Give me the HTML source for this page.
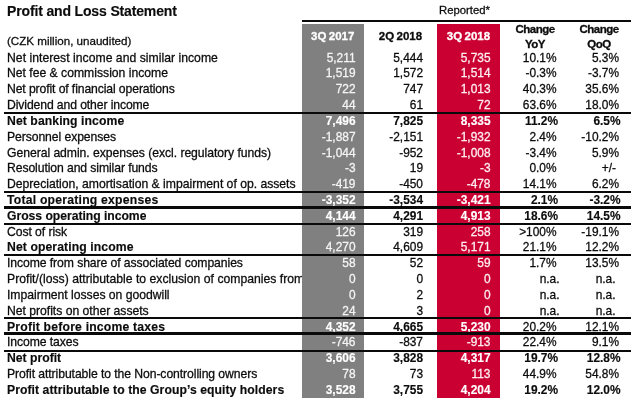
<!DOCTYPE html>
<html><head><meta charset="utf-8"><title>Profit and Loss Statement</title>
<style>
html,body{margin:0;padding:0;background:#fff;}
body{width:640px;height:405px;position:relative;overflow:hidden;font-family:"Liberation Sans",Arial,sans-serif;font-size:12.2px;color:#0c0c0c;-webkit-text-stroke:0.28px currentColor;}
.abs{position:absolute;}
.r{position:absolute;left:0;width:640px;height:16px;line-height:16px;white-space:nowrap;}
.r span{position:absolute;top:0;}
.l{left:7px;max-width:295px;overflow:hidden;}
.c1,.c2,.c3,.c4,.c5{font-size:11.9px;}
.c1{right:284.5px;color:#f4f4f4;}
.c2{right:217px;}
.c3{right:149.5px;color:#fdeef1;}
.c4{right:83.5px;}
.c5{right:21px;}
.b{font-weight:bold;-webkit-text-stroke:0.15px currentColor;}
.h{-webkit-text-stroke:0.3px currentColor;}
.ln{position:absolute;left:4px;height:1.3px;background:#0a0a0a;width:626.5px;}
.h{position:absolute;font-weight:bold;text-align:center;white-space:nowrap;font-size:11.5px;word-spacing:-0.8px;}
</style></head><body>
<div class="abs" style="left:302px;top:24px;width:62px;height:374px;background:#808080;"></div>
<div class="abs" style="left:436.5px;top:24px;width:63px;height:374.2px;background:#cb0032;"></div>
<div class="abs b" style="left:7px;top:2px;font-size:14px;letter-spacing:-0.15px;line-height:18px;font-weight:bold;">Profit and Loss Statement</div>
<div class="abs" style="left:439px;top:3px;font-size:11.3px;line-height:14px;white-space:nowrap;">Reported*</div>
<div class="ln" style="left:301.6px;width:329px;top:19.5px;height:2.0px"></div>
<div class="abs" style="left:7px;top:33.2px;font-size:11.6px;line-height:15px;">(CZK million, unaudited)</div>
<div class="h" style="left:302px;width:61.5px;top:28.5px;line-height:15px;color:#fff;">3Q 2017</div>
<div class="h" style="left:370px;width:61px;top:28.5px;line-height:15px;">2Q 2018</div>
<div class="h" style="left:437px;width:63px;top:28.5px;line-height:15px;color:#fff;">3Q 2018</div>
<div class="h" style="left:504.5px;width:61px;top:22.2px;line-height:15px;letter-spacing:-0.5px;">Change<br>YoY</div>
<div class="h" style="left:568.5px;width:61px;top:22.2px;line-height:15px;letter-spacing:-0.5px;">Change<br>QoQ</div>

<div class="r" style="top:50px"><span class="l" style="letter-spacing:0.024px">Net interest income and similar income</span><span class="c1">5,211</span><span class="c2">5,444</span><span class="c3">5,735</span><span class="c4">10.1%</span><span class="c5">5.3%</span></div>
<div class="r" style="top:65px"><span class="l" style="letter-spacing:-0.008px">Net fee &amp; commission income</span><span class="c1">1,519</span><span class="c2">1,572</span><span class="c3">1,514</span><span class="c4">-0.3%</span><span class="c5">-3.7%</span></div>
<div class="r" style="top:81px"><span class="l" style="letter-spacing:-0.109px">Net profit of financial operations</span><span class="c1">722</span><span class="c2">747</span><span class="c3">1,013</span><span class="c4">40.3%</span><span class="c5">35.6%</span></div>
<div class="r" style="top:97px"><span class="l" style="letter-spacing:-0.108px">Dividend and other income</span><span class="c1">44</span><span class="c2">61</span><span class="c3">72</span><span class="c4">63.6%</span><span class="c5">18.0%</span></div>
<div class="ln" style="top:112.05px;height:2.0px"></div>
<div class="r" style="top:113px"><span class="l b" style="letter-spacing:0.082px">Net banking income</span><span class="c1 b" style="color:#fff;">7,496</span><span class="c2 b">7,825</span><span class="c3 b" style="color:#fff;">8,335</span><span class="c4 b" style="right:82px;">11.2%</span><span class="c5 b" style="right:19.5px;">6.5%</span></div>
<div class="r" style="top:129px"><span class="l" style="letter-spacing:-0.082px">Personnel expenses</span><span class="c1">-1,887</span><span class="c2">-2,151</span><span class="c3">-1,932</span><span class="c4">2.4%</span><span class="c5">-10.2%</span></div>
<div class="r" style="top:145px"><span class="l" style="letter-spacing:-0.045px">General admin. expenses (excl. regulatory funds)</span><span class="c1">-1,044</span><span class="c2">-952</span><span class="c3">-1,008</span><span class="c4">-3.4%</span><span class="c5">5.9%</span></div>
<div class="r" style="top:160px"><span class="l" style="letter-spacing:-0.093px">Resolution and similar funds</span><span class="c1">-3</span><span class="c2">19</span><span class="c3">-3</span><span class="c4">0.0%</span><span class="c5" style="right:24px;">+/-</span></div>
<div class="r" style="top:176px"><span class="l" style="letter-spacing:-0.013px">Depreciation, amortisation &amp; impairment of op. assets</span><span class="c1">-419</span><span class="c2">-450</span><span class="c3">-478</span><span class="c4">14.1%</span><span class="c5">6.2%</span></div>
<div class="ln" style="top:190.85px;height:2.0px"></div>
<div class="r" style="top:192px"><span class="l b" style="letter-spacing:0.226px">Total operating expenses</span><span class="c1 b" style="color:#fff;">-3,352</span><span class="c2 b">-3,534</span><span class="c3 b" style="color:#fff;">-3,421</span><span class="c4 b" style="right:82px;">2.1%</span><span class="c5 b" style="right:19.5px;">-3.2%</span></div>
<div class="ln" style="top:206.10px;height:2.8px"></div>
<div class="r" style="top:208px"><span class="l b" style="letter-spacing:-0.036px">Gross operating income</span><span class="c1 b" style="color:#fff;">4,144</span><span class="c2 b">4,291</span><span class="c3 b" style="color:#fff;">4,913</span><span class="c4 b" style="right:82px;">18.6%</span><span class="c5 b" style="right:19.5px;">14.5%</span></div>
<div class="ln" style="top:222.90px;height:2.0px"></div>
<div class="r" style="top:224px"><span class="l" style="letter-spacing:-0.073px">Cost of risk</span><span class="c1">126</span><span class="c2">319</span><span class="c3">258</span><span class="c4">>100%</span><span class="c5">-19.1%</span></div>
<div class="r" style="top:239px"><span class="l b" style="letter-spacing:0.095px">Net operating income</span><span class="c1">4,270</span><span class="c2">4,609</span><span class="c3">5,171</span><span class="c4">21.1%</span><span class="c5">12.2%</span></div>
<div class="ln" style="top:254.30px;height:2.0px"></div>
<div class="r" style="top:255px"><span class="l" style="letter-spacing:-0.080px">Income from share of associated companies</span><span class="c1">58</span><span class="c2">52</span><span class="c3">59</span><span class="c4">1.7%</span><span class="c5">13.5%</span></div>
<div class="r" style="top:271px"><span class="l" style="letter-spacing:0.009px">Profit/(loss) attributable to exclusion of companies from</span><span class="c1">0</span><span class="c2">0</span><span class="c3">0</span><span class="c4" style="right:80.5px;">n.a.</span><span class="c5" style="right:24.5px;">n.a.</span></div>
<div class="r" style="top:287px"><span class="l" style="letter-spacing:-0.025px">Impairment losses on goodwill</span><span class="c1">0</span><span class="c2">2</span><span class="c3">0</span><span class="c4" style="right:80.5px;">n.a.</span><span class="c5" style="right:24.5px;">n.a.</span></div>
<div class="r" style="top:303px"><span class="l" style="letter-spacing:-0.023px">Net profits on other assets</span><span class="c1">24</span><span class="c2">3</span><span class="c3">0</span><span class="c4" style="right:80.5px;">n.a.</span><span class="c5" style="right:24.5px;">n.a.</span></div>
<div class="ln" style="top:317.40px;height:2.0px"></div>
<div class="r" style="top:319px"><span class="l b" style="letter-spacing:0.200px">Profit before income taxes</span><span class="c1 b" style="color:#fff;">4,352</span><span class="c2 b">4,665</span><span class="c3 b" style="color:#fff;">5,230</span><span class="c4">20.2%</span><span class="c5">12.1%</span></div>
<div class="ln" style="top:332.45px;height:2.8px"></div>
<div class="r" style="top:334px"><span class="l" style="letter-spacing:-0.082px">Income taxes</span><span class="c1">-746</span><span class="c2">-837</span><span class="c3">-913</span><span class="c4">22.4%</span><span class="c5">9.1%</span></div>
<div class="ln" style="top:349.60px;height:2.0px"></div>
<div class="r" style="top:350px"><span class="l b" style="letter-spacing:0.000px">Net profit</span><span class="c1 b" style="color:#fff;">3,606</span><span class="c2 b">3,828</span><span class="c3 b" style="color:#fff;">4,317</span><span class="c4 b" style="right:82px;">19.7%</span><span class="c5 b" style="right:19.5px;">12.8%</span></div>
<div class="r" style="top:366px"><span class="l" style="letter-spacing:-0.079px">Profit attributable to the Non-controlling owners</span><span class="c1">78</span><span class="c2">73</span><span class="c3">113</span><span class="c4">44.9%</span><span class="c5">54.8%</span></div>
<div class="r" style="top:382px"><span class="l b" style="letter-spacing:0.057px">Profit attributable to the Group’s equity holders</span><span class="c1 b" style="color:#fff;">3,528</span><span class="c2 b">3,755</span><span class="c3 b" style="color:#fff;">4,204</span><span class="c4 b" style="right:82px;">19.2%</span><span class="c5 b" style="right:19.5px;">12.0%</span></div>
</body></html>
